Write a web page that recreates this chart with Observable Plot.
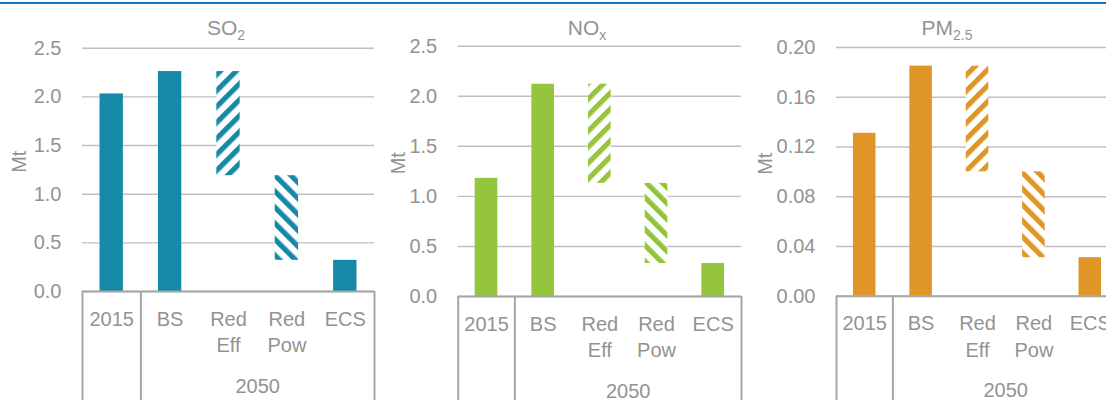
<!DOCTYPE html>
<html><head><meta charset="utf-8">
<script src="https://cdn.jsdelivr.net/npm/d3@7"></script>
<script src="https://cdn.jsdelivr.net/npm/@observablehq/plot@0.6"></script>
<style>
html,body{margin:0;padding:0;background:#fff;overflow:hidden}
#root{position:relative;width:1106px;height:400px;overflow:hidden;font-family:"Liberation Sans",Arial,sans-serif;color:#939393}
.topline{position:absolute;left:0;top:1.5px;width:1106px;height:2.2px;background:#1872b8}
.panel{position:absolute;top:0;height:400px}
.panel svg{overflow:visible;max-width:none!important;height:400px!important}
.title{position:absolute;font-size:21px;line-height:21px;white-space:nowrap;transform:translateX(-50%)}
.title sub{font-size:14px;vertical-align:baseline;position:relative;top:5px}
</style>
</head><body>
<div id="root"><div class="topline"></div></div>
<svg width="0" height="0" style="position:absolute">
  <defs id="defs"></defs>
</svg>
<script>
// ---- data ----
const categories = ["2015", "BS", "Red Eff", "Red Pow", "ECS"];
const categoryLabels = ["2015", "BS", "Red\nEff", "Red\nPow", "ECS"];
const barKinds = ["solid", "solid", "up", "down", "solid"];
const groupLabel = "2050";

const so2Low  = [0, 0, 1.19, 0.32, 0];
const so2High = [2.03, 2.26, 2.26, 1.19, 0.32];
const noxLow  = [0, 0, 1.13, 0.33, 0];
const noxHigh = [1.18, 2.12, 2.12, 1.13, 0.33];
const pmLow   = [0, 0, 0.100, 0.031, 0];
const pmHigh  = [0.131, 0.185, 0.185, 0.100, 0.031];

const so2Ticks = [0, 0.5, 1, 1.5, 2, 2.5];
const noxTicks = [0, 0.5, 1, 1.5, 2, 2.5];
const pmTicks  = [0, 0.04, 0.08, 0.12, 0.16, 0.2];

const panelTitles = [
  {main: "SO", sub: "2"},
  {main: "NO", sub: "x"},
  {main: "PM", sub: "2.5"}
];
const yLabel = "Mt";

// ---- layout / style ----
const FONT = '"Liberation Sans",Arial,sans-serif';
const FS = 20;
const TEXT = "#939393";
const GRID = "#c0c0c0";
const BOX = "#a6a6a6";

const panels = [
  {id: "so2", low: so2Low, high: so2High, ticks: so2Ticks, fmt: ".1f", color: "#1689a8",
   left: 0, width: 380, mL: 82, mR: 6, mT: 47.7, mB: 109, labelX: 19, titleX: 226},
  {id: "nox", low: noxLow, high: noxHigh, ticks: noxTicks, fmt: ".1f", color: "#95c53d",
   left: 380, width: 367, mL: 77.7, mR: 6, mT: 45.7, mB: 104, labelX: 398, titleX: 587},
  {id: "pm", low: pmLow, high: pmHigh, ticks: pmTicks, fmt: ".2f", color: "#e09527",
   left: 750, width: 372, mL: 86, mR: 4, mT: 47, mB: 104.3, labelX: 765, titleX: 947}
];

// hatch patterns
const defs = d3.select("#defs");
panels.forEach(p => {
  [["up", 45], ["down", -45]].forEach(([k, ang]) => {
    const pat = defs.append("pattern")
      .attr("id", `hatch-${p.id}-${k}`)
      .attr("patternUnits", "userSpaceOnUse")
      .attr("width", 11.3).attr("height", 11.3)
      .attr("patternTransform", `rotate(${ang})`);
    pat.append("rect").attr("width", 11.3).attr("height", 11.3).attr("fill", "#fff");
    pat.append("rect").attr("width", 5.2).attr("height", 11.3).attr("fill", p.color);
  });
});

const root = document.getElementById("root");

panels.forEach((p, pi) => {
  const rows = categories.map((c, i) => ({
    category: c, label: categoryLabels[i], kind: barKinds[i], low: p.low[i], high: p.high[i]
  }));
  const plotW = p.width - p.mL - p.mR;
  const plotH = 400 - p.mT - p.mB;
  const step = plotW / categories.length;

  const chart = Plot.plot({
    width: p.width, height: 400,
    marginLeft: p.mL, marginRight: p.mR, marginTop: p.mT, marginBottom: p.mB,
    style: {fontFamily: FONT, fontSize: FS + "px", color: TEXT, background: "transparent", overflow: "visible"},
    x: {type: "band", domain: categories, paddingInner: 0.6, paddingOuter: 0.3, round: false, axis: null},
    y: {domain: [0, p.ticks[p.ticks.length - 1]], axis: null},
    marks: [
      Plot.gridY(p.ticks, {stroke: GRID, strokeOpacity: 1, strokeWidth: 1.4}),
      Plot.axisY(p.ticks, {tickSize: 0, tickPadding: 21, tickFormat: d3.format(p.fmt), fill: TEXT, fontSize: FS, label: null}),
      Plot.barY(rows.filter(r => r.kind === "solid"), {x: "category", y1: "low", y2: "high", fill: p.color}),
      Plot.barY(rows.filter(r => r.kind === "up"), {x: "category", y1: "low", y2: "high", fill: `url(#hatch-${p.id}-up)`}),
      Plot.barY(rows.filter(r => r.kind === "down"), {x: "category", y1: "low", y2: "high", fill: `url(#hatch-${p.id}-down)`}),
      Plot.ruleY([0], {stroke: BOX, strokeWidth: 2}),
      Plot.ruleX([categories[0], categories[1]], {x: d => d, dx: -step / 2, stroke: BOX, strokeWidth: 2, insetTop: plotH, insetBottom: -p.mB}),
      Plot.ruleX([categories[categories.length - 1]], {x: d => d, dx: step / 2, stroke: BOX, strokeWidth: 2, insetTop: plotH, insetBottom: -p.mB}),
      Plot.text(rows, {x: "category", text: "label", frameAnchor: "bottom", lineAnchor: "top", dy: 15.5, lineHeight: 1.32, fontSize: FS, fill: TEXT}),
      Plot.text([groupLabel], {x: () => categories[2], text: d => d, dx: step / 2, frameAnchor: "bottom", dy: 101, fontSize: FS, fill: TEXT}),
      Plot.text([yLabel], {text: d => d, frameAnchor: "left", rotate: -90, dx: p.labelX - p.left - p.mL, dy: 3, fontSize: FS, fill: TEXT})
    ]
  });

  const div = document.createElement("div");
  div.className = "panel";
  div.style.left = p.left + "px";
  div.style.width = p.width + "px";
  div.appendChild(chart);
  root.appendChild(div);

  const t = document.createElement("div");
  t.className = "title";
  t.style.left = p.titleX + "px";
  t.style.top = "17px";
  t.innerHTML = `${panelTitles[pi].main}<sub>${panelTitles[pi].sub}</sub>`;
  root.appendChild(t);
});
</script>
</body></html>
